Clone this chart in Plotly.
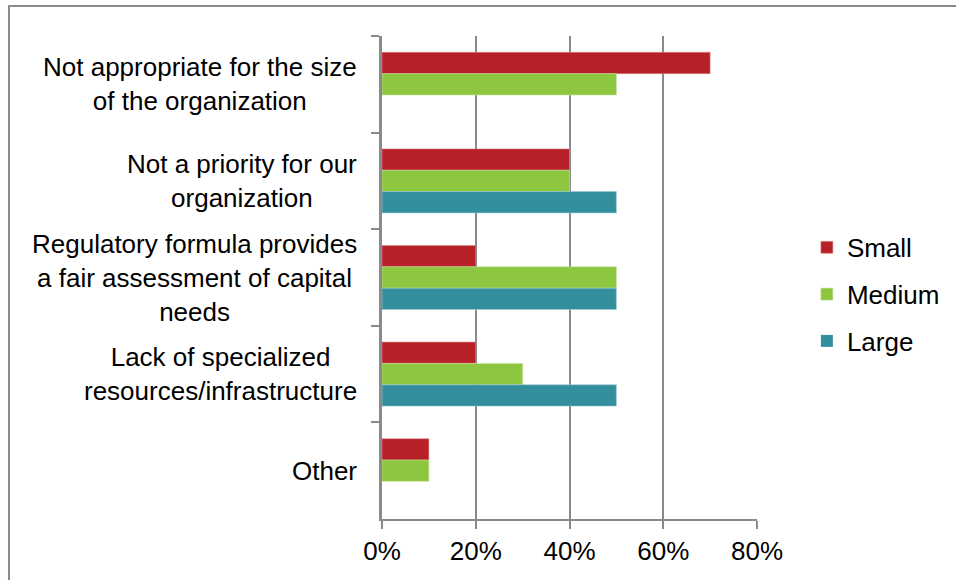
import plotly.graph_objects as go

# Reasons given, by organization size (share of respondents)
categories = [
    "Not appropriate for the size<br>of the organization",
    "Not a priority for our<br>organization",
    "Regulatory formula provides<br>a fair assessment of capital<br>needs",
    "Lack of specialized<br>resources/infrastructure",
    "Other",
]
small = [0.70, 0.40, 0.20, 0.20, 0.10]
medium = [0.50, 0.40, 0.50, 0.30, 0.10]
large = [0.00, 0.50, 0.50, 0.50, 0.00]

series_names = ["Small", "Medium", "Large"]
series_values = [small, medium, large]
series_colors = ["#B72027", "#8DC63F", "#338F9E"]
edge_colors = ["#D98A8E", "#C2E29A", "#9CCBD3"]

x_ticks = [0.0, 0.2, 0.4, 0.6, 0.8]

FONT = "Liberation Sans, Arial, sans-serif"
GRAY = "#8A8A8A"

fig = go.Figure()
for name, vals, col, edge in zip(series_names, series_values, series_colors, edge_colors):
    # no outline on empty bars so nothing is drawn at zero
    widths = [0.6 if v > 0 else 0 for v in vals]
    fig.add_trace(go.Bar(
        y=categories,
        x=vals,
        name=name,
        orientation="h",
        legendgroup=name,
        marker=dict(color=col, line=dict(color=edge, width=widths)),
    ))

# Category labels: centered multi-line blocks to the left of the axis
for cat in categories:
    fig.add_annotation(
        x=0, xref="paper", y=cat, yref="y",
        text=cat, showarrow=False,
        xanchor="right", yanchor="middle", align="center",
        xshift=-23,
        font=dict(family=FONT, size=26, color="black"),
    )

# Outer chart frame
fig.add_shape(
    type="rect", xref="paper", yref="paper",
    x0=-0.9947, x1=2.0, y0=-1.0, y1=1.0621,
    line=dict(color=GRAY, width=2), fillcolor="rgba(0,0,0,0)",
    layer="below",
)

fig.update_layout(
    width=956, height=580,
    margin=dict(l=382, r=198, t=36, b=61),
    paper_bgcolor="white", plot_bgcolor="white",
    barmode="group", bargap=0.337, bargroupgap=0,
    font=dict(family=FONT, size=26, color="black"),
    showlegend=True,
    legend=dict(
        x=1.13, xanchor="left", y=0.465, yanchor="middle",
        traceorder="grouped", tracegroupgap=10,
        font=dict(family=FONT, size=26, color="black"),
        bgcolor="rgba(0,0,0,0)",
    ),
    xaxis=dict(
        range=[0, 0.8], tickvals=x_ticks, tickformat=".0%",
        showgrid=True, gridcolor=GRAY, gridwidth=2,
        showline=True, linecolor=GRAY, linewidth=2,
        ticks="outside", ticklen=8, tickcolor=GRAY, tickwidth=2,
        zeroline=False, fixedrange=True,
        tickfont=dict(family=FONT, size=26, color="black"),
    ),
    yaxis=dict(
        type="category", categoryorder="array", categoryarray=categories,
        autorange="reversed",
        showticklabels=False, showgrid=False,
        showline=True, linecolor=GRAY, linewidth=2.5,
        ticks="outside", tickson="boundaries", ticklen=8,
        tickcolor=GRAY, tickwidth=2,
        zeroline=False, fixedrange=True,
    ),
)

fig.write_html("out.html")
